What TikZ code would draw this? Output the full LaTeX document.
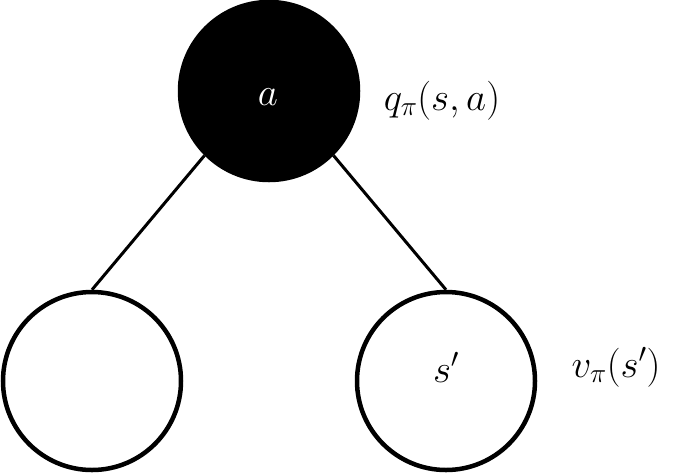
\RequirePackage{fix-cm}
\documentclass[tikz,border=0pt]{standalone}
\begin{document}
\begin{tikzpicture}[x=1pt,y=-1pt,
  state/.style={circle,draw=black,line width=4.5pt,minimum size=178pt,inner sep=0pt},
  lab/.style={font=\fontsize{39}{44}\selectfont,inner sep=0pt},
  edge/.style={line width=3pt}]
\useasboundingbox (0,0) rectangle (692,472);
\node[state,fill=black] (top) at (269,91) {};
\node[state] (left) at (92,381) {};
\node[state] (right) at (446,381) {};
\node[lab,anchor=base,text=white] (ta) at (268,105) {$a$};
\node[lab,anchor=base] (tr) at (446,382) {$s'$};
\node[lab,anchor=base] (q) at (442,110) {$q_\pi(s,a)$};
\node[lab,anchor=base] (v) at (616,377) {$v_\pi(s')$};
\draw[edge] (top.south west) -- (left.north);
\draw[edge] (top.south east) -- (right.north);
\end{tikzpicture}
\end{document}
